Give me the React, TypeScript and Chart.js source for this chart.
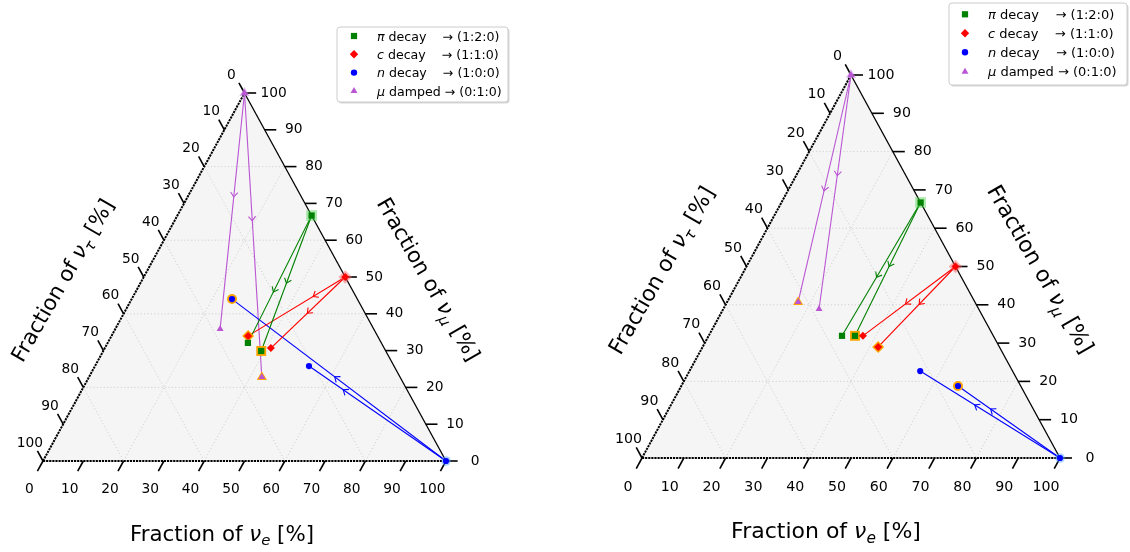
import React, { useEffect, useRef } from 'react';
import { Chart, registerables } from 'chart.js';

Chart.register(...registerables);

// ---------------- data ----------------
const speciesSymbols = ['π', 'c', 'n', 'μ'];
const speciesWords = [' decay    ', ' decay    ', ' decay    ', ' damped '];
const speciesRatios = ['→ (1:2:0)', '→ (1:1:0)', '→ (1:0:0)', '→ (0:1:0)'];

// flavour composition at the source, in % (ν_e, ν_μ); ν_τ is the remainder
const sourceNuE = [33.3, 50, 100, 0];
const sourceNuMu = [66.7, 50, 0, 100];

// left panel: two compositions at Earth per source
const leftNuE = [[34.8, 39.2], [33.9, 41.2], [24.9, 53.1], [26.0, 42.9]];
const leftNuMu = [[32.1, 29.9], [34.0, 30.7], [44.0, 25.8], [35.9, 22.8]];
const leftHighlighted = [1, 0, 0, 1];
const leftArrowAt = [[0.6, 0.5], [0.33, 0.51], [0.52, 0.75], [0.44, 0.45]];

// right panel
const rightNuE = [[31.9, 35.0], [36.9, 42.0], [55.2, 66.2], [17.0, 22.9]];
const rightNuMu = [[31.9, 31.9], [31.9, 29.0], [22.7, 18.8], [40.7, 38.9]];
const rightHighlighted = [1, 1, 1, 0];
const rightArrowAt = [[0.56, 0.48], [0.54, 0.47], [0.61, 0.68], [0.51, 0.43]];

const tickValues = [0, 10, 20, 30, 40, 50, 60, 70, 80, 90, 100];
const gridValues = [20, 40, 60, 80];

// ---------------- styles ----------------
const colors = ['#008000', '#ff0000', '#0000ff', '#ba55d3'];
const haloColors = ['rgba(70,210,70,0.45)', 'rgba(255,90,90,0.45)', 'rgba(90,170,255,0.5)', 'rgba(200,130,230,0.5)'];
const markerStyles = ['rect', 'rectRot', 'circle', 'triangle'];
const markerRadius = [4.4, 4.0, 3.1, 4.0];
const highlightRadius = [7.0, 6.0, 5.0, 5.9];
const sourceHaloRadius = [7.6, 6.8, 4.8, 6.0];
const HIGHLIGHT = '#ffa500';
const FONT = '"DejaVu Sans"';

type Part = { t: string; it?: boolean; sub?: boolean };

const panels = [
  {
    left: 0,
    pad: { left: 43, right: 119, top: 93, bottom: 91 },
    s: 0.97,
    nuE: leftNuE, nuMu: leftNuMu, hi: leftHighlighted, arrowAt: leftArrowAt,
    legend: { x: 337, y: 27, w: 171, h: 75, rows: [36, 54.3, 72.6, 91], markerX: 354, textX: 377, fs: 12.6 },
    titleB: [222, 533], titleL: [62, 280], titleR: [429, 279],
  },
  {
    left: 565,
    pad: { left: 77, right: 70, top: 75, bottom: 94 },
    s: 1,
    nuE: rightNuE, nuMu: rightNuMu, hi: rightHighlighted, arrowAt: rightArrowAt,
    legend: { x: 384, y: 3, w: 178, h: 82, rows: [14.3, 33.3, 52.3, 71.7], markerX: 400, textX: 423, fs: 13 },
    titleB: [261, 530], titleL: [96, 270], titleR: [476, 269],
  },
];

function toXY(e: number, mu: number) {
  return { x: e + mu / 2, y: mu };
}

function buildDatasets(nuE: number[][], nuMu: number[][], hi: number[]) {
  const ds: any[] = [];
  for (let k = 0; k < 4; k++) {
    const src = toXY(sourceNuE[k], sourceNuMu[k]);
    const ends = nuE[k].map((e, j) => toXY(e, nuMu[k][j]));
    ends.forEach((p) =>
      ds.push({ data: [src, p], showLine: true, borderColor: colors[k], borderWidth: 1.1, pointRadius: 0, order: 50, clip: false })
    );
    ds.push({ data: [src], pointStyle: markerStyles[k], pointRadius: sourceHaloRadius[k], pointBackgroundColor: haloColors[k], pointBorderWidth: 0, order: 40, clip: false });
    ds.push({ data: [ends[hi[k]]], pointStyle: markerStyles[k], pointRadius: highlightRadius[k], pointBackgroundColor: HIGHLIGHT, pointBorderWidth: 0, order: 40, clip: false });
    ds.push({ data: [src, ...ends], pointStyle: markerStyles[k], pointRadius: markerRadius[k], pointBackgroundColor: colors[k], pointBorderWidth: 0, order: 10, clip: false });
  }
  return ds;
}

function fontStr(size: number, it?: boolean) {
  return `${it ? 'italic ' : ''}${size}px ${FONT}`;
}

function drawRich(ctx: CanvasRenderingContext2D, parts: Part[], x: number, y: number, size: number, rot: number) {
  ctx.save();
  ctx.translate(x, y);
  ctx.rotate(rot);
  ctx.textAlign = 'left';
  ctx.textBaseline = 'alphabetic';
  const widths = parts.map((p) => {
    ctx.font = fontStr(p.sub ? size * 0.7 : size, p.it);
    return ctx.measureText(p.t).width;
  });
  const total = widths.reduce((a, b) => a + b, 0);
  let cx = -total / 2;
  const base = size * 0.36;
  parts.forEach((p, i) => {
    ctx.font = fontStr(p.sub ? size * 0.7 : size, p.it);
    ctx.fillText(p.t, cx, base + (p.sub ? size * 0.22 : 0));
    cx += widths[i];
  });
  ctx.restore();
}

function markerPath(ctx: CanvasRenderingContext2D, style: string, x: number, y: number, r: number) {
  ctx.beginPath();
  if (style === 'rect') {
    const h = Math.SQRT1_2 * r;
    ctx.rect(x - h, y - h, 2 * h, 2 * h);
  } else if (style === 'rectRot') {
    ctx.moveTo(x - r, y); ctx.lineTo(x, y - r); ctx.lineTo(x + r, y); ctx.lineTo(x, y + r); ctx.closePath();
  } else if (style === 'triangle') {
    for (let i = 0; i < 3; i++) {
      const a = (i * 2 * Math.PI) / 3;
      const px = x + Math.sin(a) * r, py = y - Math.cos(a) * r;
      if (i === 0) ctx.moveTo(px, py); else ctx.lineTo(px, py);
    }
    ctx.closePath();
  } else {
    ctx.arc(x, y, r, 0, Math.PI * 2);
  }
}

function makePlugin(cfg: any) {
  const P = (chart: any, e: number, mu: number) => ({
    x: chart.scales.x.getPixelForValue(e + mu / 2),
    y: chart.scales.y.getPixelForValue(mu),
  });
  const line = (ctx: CanvasRenderingContext2D, a: any, b: any) => {
    ctx.beginPath(); ctx.moveTo(a.x, a.y); ctx.lineTo(b.x, b.y); ctx.stroke();
  };
  return {
    id: 'ternaryFrame',
    beforeDatasetsDraw(chart: any) {
      const ctx: CanvasRenderingContext2D = chart.ctx;
      const s = cfg.s;
      const BL = P(chart, 0, 0), BR = P(chart, 100, 0), TOP = P(chart, 0, 100);
      ctx.save();
      ctx.beginPath(); ctx.moveTo(BL.x, BL.y); ctx.lineTo(BR.x, BR.y); ctx.lineTo(TOP.x, TOP.y); ctx.closePath();
      ctx.fillStyle = '#f5f5f5'; ctx.fill();
      // grid
      ctx.strokeStyle = '#c8c8c8'; ctx.lineWidth = 0.8; ctx.setLineDash([1.2, 2.2]);
      gridValues.forEach((v) => {
        line(ctx, P(chart, 0, v), P(chart, 100 - v, v));
        line(ctx, P(chart, v, 0), P(chart, v, 100 - v));
        line(ctx, P(chart, 0, 100 - v), P(chart, 100 - v, 0));
      });
      // edges
      ctx.strokeStyle = '#000';
      ctx.setLineDash([]); ctx.lineWidth = 1.3;
      line(ctx, BR, TOP);
      ctx.setLineDash([2.2, 0.9]); ctx.lineWidth = 2;
      line(ctx, BL, BR); line(ctx, BL, TOP);
      ctx.setLineDash([]);
      // ticks
      const norm = (v: any) => { const l = Math.hypot(v.x, v.y); return { x: v.x / l, y: v.y / l }; };
      const uB = norm({ x: BL.x - TOP.x, y: BL.y - TOP.y });
      const uL = norm({ x: TOP.x - BR.x, y: TOP.y - BR.y });
      const tl = 12 * s;
      ctx.lineWidth = 1.6;
      ctx.fillStyle = '#000';
      ctx.font = fontStr(14.2 * s);
      ctx.textAlign = 'center'; ctx.textBaseline = 'middle';
      tickValues.forEach((v) => {
        const b = P(chart, v, 0);
        line(ctx, b, { x: b.x + uB.x * tl, y: b.y + uB.y * tl });
        ctx.fillText(String(v), b.x - 14 * s, b.y + 29.5 * s);
        const r = P(chart, 100 - v, v);
        line(ctx, r, { x: r.x + tl, y: r.y });
        ctx.fillText(String(v), r.x + 30 * s, r.y);
        const l = P(chart, 0, 100 - v);
        line(ctx, l, { x: l.x + uL.x * tl, y: l.y + uL.y * tl });
        ctx.fillText(String(v), l.x - 13.5 * s, l.y - 18.5 * s);
      });
      // titles
      const ts = 22 * s;
      drawRich(ctx, [{ t: 'Fraction of ' }, { t: 'ν', it: true }, { t: 'e', it: true, sub: true }, { t: ' [%]' }], cfg.titleB[0], cfg.titleB[1], ts, 0);
      drawRich(ctx, [{ t: 'Fraction of ' }, { t: 'ν', it: true }, { t: 'τ', it: true, sub: true }, { t: ' [%]' }], cfg.titleL[0], cfg.titleL[1], ts, -Math.PI / 3);
      drawRich(ctx, [{ t: 'Fraction of ' }, { t: 'ν', it: true }, { t: 'μ', it: true, sub: true }, { t: ' [%]' }], cfg.titleR[0], cfg.titleR[1], ts, Math.PI / 3);
      ctx.restore();
    },
    afterDatasetsDraw(chart: any) {
      const ctx: CanvasRenderingContext2D = chart.ctx;
      ctx.save();
      // direction arrows
      for (let k = 0; k < 4; k++) {
        const S = P(chart, sourceNuE[k], sourceNuMu[k]);
        cfg.nuE[k].forEach((e: number, j: number) => {
          const E = P(chart, e, cfg.nuMu[k][j]);
          const t = cfg.arrowAt[k][j];
          const px = S.x + (E.x - S.x) * t, py = S.y + (E.y - S.y) * t;
          const l = Math.hypot(E.x - S.x, E.y - S.y);
          const dx = (E.x - S.x) / l, dy = (E.y - S.y) / l;
          const L = 4.5, W = 3.6;
          ctx.strokeStyle = colors[k]; ctx.lineWidth = 1.1;
          ctx.beginPath();
          ctx.moveTo(px - dx * L - dy * W, py - dy * L + dx * W);
          ctx.lineTo(px, py);
          ctx.lineTo(px - dx * L + dy * W, py - dy * L - dx * W);
          ctx.stroke();
        });
      }
      // legend
      const Lg = cfg.legend;
      const rr = (x: number, y: number, w: number, h: number, r: number) => {
        ctx.beginPath();
        ctx.moveTo(x + r, y); ctx.lineTo(x + w - r, y); ctx.quadraticCurveTo(x + w, y, x + w, y + r);
        ctx.lineTo(x + w, y + h - r); ctx.quadraticCurveTo(x + w, y + h, x + w - r, y + h);
        ctx.lineTo(x + r, y + h); ctx.quadraticCurveTo(x, y + h, x, y + h - r);
        ctx.lineTo(x, y + r); ctx.quadraticCurveTo(x, y, x + r, y); ctx.closePath();
      };
      rr(Lg.x + 1.5, Lg.y + 1.5, Lg.w, Lg.h, 3); ctx.fillStyle = 'rgba(0,0,0,0.16)'; ctx.fill();
      rr(Lg.x, Lg.y, Lg.w, Lg.h, 3); ctx.fillStyle = '#ffffff'; ctx.fill();
      ctx.strokeStyle = '#cccccc'; ctx.lineWidth = 1; ctx.stroke();
      const legR = [4.4, 4.2, 3.2, 4.0];
      const fs = Lg.fs;
      for (let k = 0; k < 4; k++) {
        const y = Lg.rows[k];
        markerPath(ctx, markerStyles[k], Lg.markerX, y, legR[k]);
        ctx.fillStyle = colors[k]; ctx.fill();
        ctx.fillStyle = '#000';
        ctx.textAlign = 'left'; ctx.textBaseline = 'alphabetic';
        const base = y + fs * 0.36;
        let x = Lg.textX;
        ctx.font = fontStr(fs, true);
        ctx.fillText(speciesSymbols[k], x, base);
        x += ctx.measureText(speciesSymbols[k]).width;
        ctx.font = fontStr(fs);
        ctx.fillText(speciesWords[k], x, base);
        x += ctx.measureText(speciesWords[k]).width;
        ctx.fillText(speciesRatios[k], x, base);
      }
      ctx.restore();
    },
  };
}

function Panel({ cfg }: { cfg: any }) {
  const ref = useRef<HTMLCanvasElement>(null);
  useEffect(() => {
    if (!ref.current) return;
    const chart = new Chart(ref.current, {
      type: 'scatter',
      data: { datasets: buildDatasets(cfg.nuE, cfg.nuMu, cfg.hi) },
      options: {
        responsive: false,
        maintainAspectRatio: false,
        animation: false,
        devicePixelRatio: 1,
        events: [],
        layout: { padding: cfg.pad },
        scales: {
          x: { type: 'linear', min: 0, max: 100, display: false },
          y: { type: 'linear', min: 0, max: 100, display: false },
        },
        plugins: { legend: { display: false }, tooltip: { enabled: false } },
      },
      plugins: [makePlugin(cfg)],
    } as any);
    return () => chart.destroy();
  }, []);
  return (
    <canvas
      ref={ref}
      width={565}
      height={552}
      style={{ position: 'absolute', left: cfg.left, top: 0, width: 565, height: 552, display: 'block' }}
    />
  );
}

export default function App() {
  return (
    <div style={{ position: 'absolute', left: 0, top: 0, width: 1130, height: 552, background: '#ffffff', overflow: 'hidden' }}>
      <Panel cfg={panels[0]} />
      <Panel cfg={panels[1]} />
    </div>
  );
}
